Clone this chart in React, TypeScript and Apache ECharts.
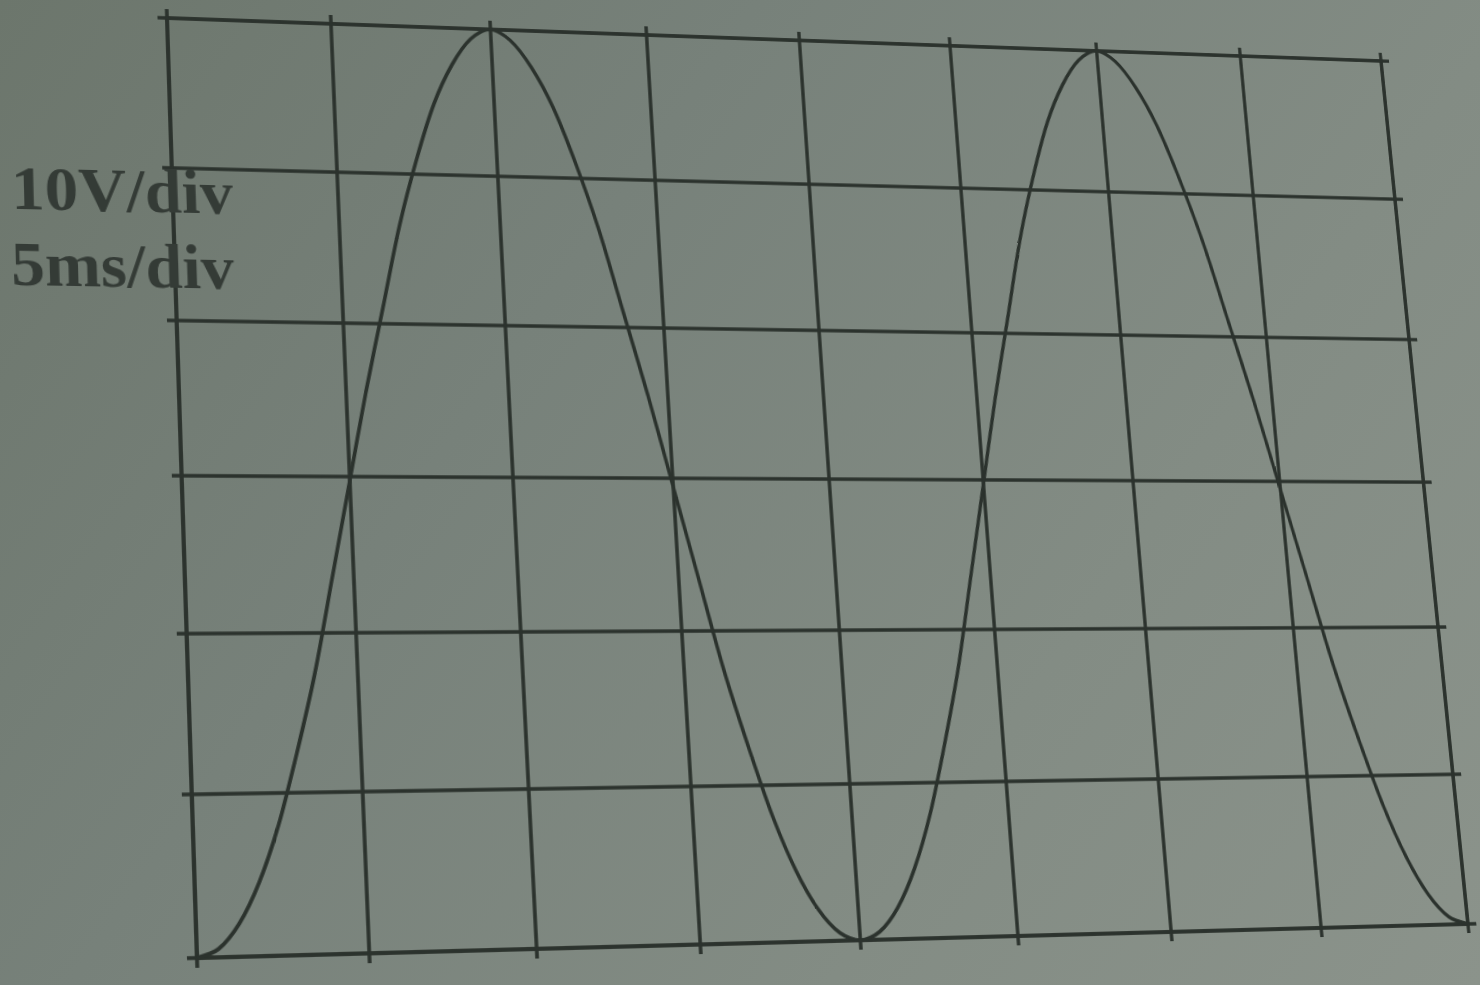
import React, { useEffect, useRef } from "react";
import * as echarts from "echarts";

// Oscilloscope trace (5 ms/div, 10 V/div)
const timeMs = [
  0, 0.625, 1.25, 1.875, 2.5, 3.125, 3.75, 4.375, 5, 5.625, 6.25, 6.875, 7.5, 8.125, 8.75, 9.375,
  10, 10.625, 11.25, 11.875, 12.5, 13.125, 13.75, 14.375, 15, 15.625, 16.25, 16.875, 17.5, 18.125, 18.75, 19.375,
  20, 20.625, 21.25, 21.875, 22.5, 23.125, 23.75, 24.375, 25, 25.625, 26.25, 26.875, 27.5, 28.125, 28.75, 29.375,
  30, 30.625, 31.25, 31.875, 32.5, 33.125, 33.75, 34.375, 35, 35.625, 36.25, 36.875, 37.5, 38.125, 38.75, 39.375,
  40,
];
const voltage = [
  -30, -29.5, -28, -25.5, -22, -17.5, -12.5, -6.5, -0.5, 5.5, 11, 16.5, 21, 24.8, 27.5, 29.3,
  30, 29.3, 27.5, 24.8, 21, 16.5, 11, 5.5, -0.5, -6.5, -12.5, -17.5, -22, -25.5, -28, -29.5,
  -30, -29.5, -28, -25.5, -22, -17.5, -12.5, -6.5, -0.5, 5.5, 11, 16.5, 21, 24.8, 27.5, 29.3,
  30, 29.3, 27.5, 24.8, 21, 16.5, 11, 5.5, -0.5, -6.5, -12.5, -17.5, -22, -25.5, -28, -29.5,
  -30,
];
const xRange = [0, 40];
const xStep = 5;
const yRange = [-30, 30];
const yStep = 10;
const scaleLabels = ["10V/div", "5ms/div"];

const INK = "#2b322d";

// layout: flat grid rectangle in the chart and the photographed quadrilateral on the page
const W = 1480;
const H = 985;
const G = { left: 180, top: 40, right: 1430, bottom: 940 };
const QUAD = [
  [167, 18],
  [1381, 61],
  [1468, 924],
  [197, 958],
];

function solveHomography(src: number[][], dst: number[][]): number[] {
  const A: number[][] = [];
  for (let i = 0; i < 4; i++) {
    const [x, y] = src[i];
    const [u, v] = dst[i];
    A.push([x, y, 1, 0, 0, 0, -u * x, -u * y, u]);
    A.push([0, 0, 0, x, y, 1, -v * x, -v * y, v]);
  }
  const n = 8;
  for (let c = 0; c < n; c++) {
    let p = c;
    for (let r = c + 1; r < n; r++) if (Math.abs(A[r][c]) > Math.abs(A[p][c])) p = r;
    [A[c], A[p]] = [A[p], A[c]];
    for (let r = 0; r < n; r++) {
      if (r === c) continue;
      const f = A[r][c] / A[c][c];
      for (let k = c; k <= n; k++) A[r][k] -= f * A[c][k];
    }
  }
  return A.map((row, i) => row[n] / row[i]);
}

function applyH(h: number[], x: number, y: number): [number, number] {
  const w = h[6] * x + h[7] * y + 1;
  return [(h[0] * x + h[1] * y + h[2]) / w, (h[3] * x + h[4] * y + h[5]) / w];
}

const SRC = [
  [G.left, G.top],
  [G.right, G.top],
  [G.right, G.bottom],
  [G.left, G.bottom],
];
const HF = solveHomography(SRC, QUAD);
const HI = solveHomography(QUAD, SRC);
const cssMatrix = `matrix3d(${HF[0]},${HF[3]},0,${HF[6]},${HF[1]},${HF[4]},0,${HF[7]},0,0,1,0,${HF[2]},${HF[5]},0,1)`;

export default function App() {
  const ref = useRef<HTMLDivElement>(null);

  useEffect(() => {
    if (!ref.current) return;
    const chart = echarts.init(ref.current, null, { renderer: "svg" });

    const label1 = applyH(HI, 11, 187);
    const label2 = applyH(HI, 11, 263);

    const lineStyle = { color: INK, width: 3.5 };
    const axisCommon = {
      type: "value" as const,
      axisLabel: { show: false },
      axisLine: { show: true, onZero: false, lineStyle },
      axisTick: { show: true, inside: false, length: 9, lineStyle },
      splitLine: { show: true, lineStyle: { ...lineStyle, type: "solid" as const } },
    };

    const textStyle = {
      fontFamily: "Liberation Serif",
      fontWeight: "bold" as const,
      fontSize: 62,
      fill: "#343b36",
      verticalAlign: "middle" as const,
      align: "left" as const,
    };

    chart.setOption({
      animation: false,
      backgroundColor: "transparent",
      grid: {
        left: G.left,
        top: G.top,
        right: W - G.right,
        bottom: H - G.bottom,
        show: false,
      },
      xAxis: [
        { ...axisCommon, position: "bottom", min: xRange[0], max: xRange[1], interval: xStep },
        { ...axisCommon, position: "top", min: xRange[0], max: xRange[1], interval: xStep, splitLine: { show: false } },
      ],
      yAxis: [
        { ...axisCommon, position: "left", min: yRange[0], max: yRange[1], interval: yStep },
        { ...axisCommon, position: "right", min: yRange[0], max: yRange[1], interval: yStep, splitLine: { show: false } },
      ],
      graphic: [
        { type: "text", x: label1[0], y: label1[1], z: 10, style: { ...textStyle, text: scaleLabels[0] } },
        { type: "text", x: label2[0], y: label2[1], z: 10, style: { ...textStyle, text: scaleLabels[1] } },
      ],
      series: [
        {
          type: "line",
          xAxisIndex: 0,
          yAxisIndex: 0,
          data: timeMs.map((t, i) => [t, voltage[i]]),
          showSymbol: false,
          smooth: 0.3,
          lineStyle: { color: INK, width: 3.5 },
          z: 5,
        },
      ],
    });

    return () => chart.dispose();
  }, []);

  return (
    <div
      style={{
        position: "fixed",
        left: 0,
        top: 0,
        width: W,
        height: H,
        overflow: "hidden",
        background: "linear-gradient(125deg, #6c766c 0%, #77817a 35%, #838c84 70%, #8b938b 100%)",
      }}
    >
      <div
        ref={ref}
        style={{
          position: "absolute",
          left: 0,
          top: 0,
          width: W,
          height: H,
          transformOrigin: "0 0",
          transform: cssMatrix,
        }}
      />
    </div>
  );
}
